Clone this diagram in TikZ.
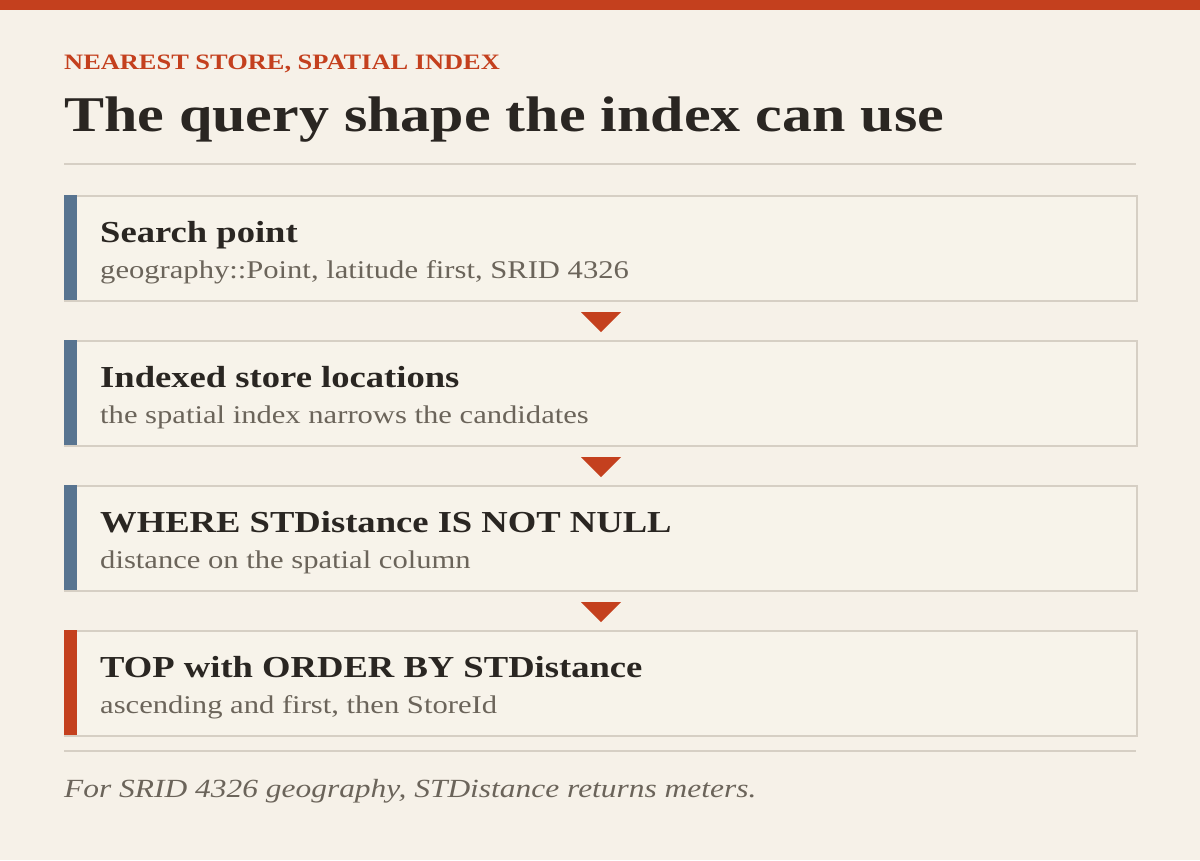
\documentclass[tikz,border=0pt]{standalone}
\usepackage{fontspec}
\setmainfont[FakeStretch=1.2]{Liberation Serif}
\usepackage{tikz}
\usetikzlibrary{positioning, calc}

\definecolor{paper}{HTML}{F6F1E8}
\definecolor{boxfill}{HTML}{F7F3EA}
\definecolor{rust}{HTML}{C4401E}
\definecolor{slate}{HTML}{587490}
\definecolor{ink}{HTML}{2A2622}
\definecolor{muted}{HTML}{6B645A}
\definecolor{rulegray}{HTML}{D6CFC4}

\begin{document}
\begin{tikzpicture}[
        x=1pt, y=-1pt,
        every node/.style={inner sep=0pt},
        stepbox/.style={draw=rulegray, line width=2pt, fill=boxfill, minimum width=1072pt, minimum height=105pt, anchor=north west},
        steptitle/.style={anchor=base west, text=ink, font=\fontsize{30.5}{36}\selectfont\bfseries},
        stepnote/.style={anchor=base west, text=muted, font=\fontsize{25.5}{30}\selectfont},
        rule/.style={draw=rulegray, line width=2pt},
        marker/.style={fill=rust}
    ]

    % Page and header
    \fill[paper] (0,0) rectangle (1200,860);
    \fill[rust] (0,0) rectangle (1200,10);
    \node[anchor=base west, text=rust, font=\fontsize{22}{26}\selectfont\bfseries] (kicker) at (64,69) {NEAREST STORE, SPATIAL INDEX};
    \node[anchor=base west, text=ink, font=\fontsize{50}{60}\selectfont\bfseries] (title) at (64,131) {The query shape the index can use};
    \draw[rule] (64,164) -- (1136,164);

    % Steps
    \node[stepbox] (point) at (64,195) {};
    \node[stepbox] (index) at (64,340) {};
    \node[stepbox] (where) at (64,485) {};
    \node[stepbox] (top) at (64,630) {};

    \fill[slate] (point.north west) rectangle ++(13,105);
    \fill[slate] (index.north west) rectangle ++(13,105);
    \fill[slate] (where.north west) rectangle ++(13,105);
    \fill[rust] (top.north west) rectangle ++(13,105);

    \node[steptitle] (pointT) at (100,242) {Search point};
    \node[stepnote] (pointN) at (100,278) {geography::Point, latitude first, SRID 4326};
    \node[steptitle] (indexT) at (100,387) {Indexed store locations};
    \node[stepnote] (indexN) at (100,423) {the spatial index narrows the candidates};
    \node[steptitle] (whereT) at (100,532) {WHERE STDistance IS NOT NULL};
    \node[stepnote] (whereN) at (100,568) {distance on the spatial column};
    \node[steptitle] (topT) at (100,677) {TOP with ORDER BY STDistance};
    \node[stepnote] (topN) at (100,713) {ascending and first, then StoreId};

    % Markers between steps
    \fill[marker] ([xshift=-20pt,yshift=-10pt]point.south) -- ([xshift=20pt,yshift=-10pt]point.south) -- ([yshift=-30pt]point.south) -- cycle;
    \fill[marker] ([xshift=-20pt,yshift=-10pt]index.south) -- ([xshift=20pt,yshift=-10pt]index.south) -- ([yshift=-30pt]index.south) -- cycle;
    \fill[marker] ([xshift=-20pt,yshift=-10pt]where.south) -- ([xshift=20pt,yshift=-10pt]where.south) -- ([yshift=-30pt]where.south) -- cycle;

    % Footer
    \draw[rule] (64,751) -- (1136,751);
    \node[anchor=base west, text=muted, font=\fontsize{26.2}{30}\selectfont\itshape] (note) at (64,797) {For SRID 4326 geography, STDistance returns meters.};

\end{tikzpicture}
\end{document}
